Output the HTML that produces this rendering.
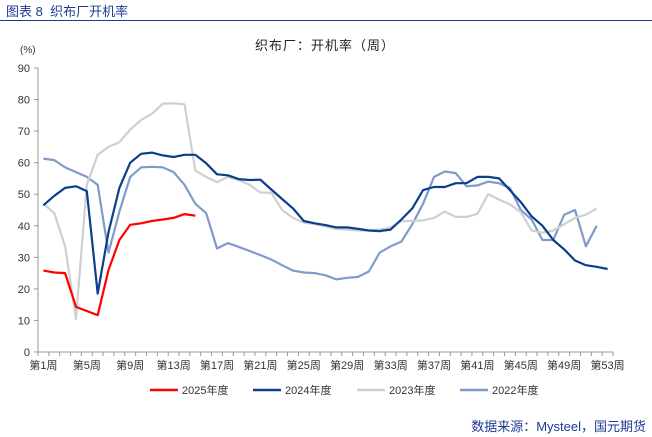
<!DOCTYPE html>
<html><head><meta charset="utf-8"><style>
body{margin:0;background:#fff;font-family:"Liberation Sans","Noto Sans CJK SC",sans-serif;}
#wrap{position:relative;width:652px;height:437px;overflow:hidden;background:#fff}
.hdr{position:absolute;left:6px;top:1px;font-size:13px;color:#1f3a93;}
</style></head><body>
<div id="wrap">
<div class="hdr">图表 8&nbsp; 织布厂开机率</div>
<div style="position:absolute;left:0;top:20px;width:652px;height:1px;background:#1f3a93"></div>
<svg id="svg" width="652" height="437" style="position:absolute;left:0;top:0"></svg>
<div style="position:absolute;right:6px;top:416px;font-size:13px;color:#1f3a93">数据来源：Mysteel，国元期货</div>
</div>
<script>
const categories=Array.from({length:53},(_,i)=>'第'+(i+1)+'周');
const yTicks=[0,10,20,30,40,50,60,70,80,90];
const s2025=[25.8,25.2,25,14.3,13,11.7,26,35.5,40.3,40.8,41.5,42,42.5,43.7,43.2];
const s2024=[46.5,49.5,52,52.5,51,18.5,38,52,60,62.8,63.2,62.3,61.8,62.5,62.5,59.8,56.3,56,54.8,54.5,54.6,51.5,48.5,45.5,41.5,40.8,40.2,39.5,39.5,39,38.5,38.3,38.8,42,45.5,51.3,52.3,52.3,53.5,53.5,55.5,55.5,55,51.3,47.5,43,40,35.5,32.5,29,27.5,27,26.3];
const s2023=[47,44,33.5,10.5,53,62.5,65,66.5,70.5,73.5,75.5,78.7,78.8,78.5,57.5,55.5,53.8,55.5,54.5,53,50.5,50.5,45,42.5,41,40.5,39.8,39,38.8,38.5,38.5,38.8,39.5,41.5,41.5,41.7,42.5,44.5,42.8,42.8,43.8,50,48.3,46.8,44.3,38.5,37.8,38.5,40.5,42.5,43.5,45.5];
const s2022=[61.3,60.8,58.5,57,55.5,53,31.5,44.5,55.5,58.5,58.7,58.5,57,53,47,44,32.8,34.5,33.3,32,30.7,29.3,27.5,25.8,25.2,25,24.3,23,23.5,23.8,25.5,31.5,33.5,35,40.5,47,55.5,57.2,56.7,52.5,52.8,54,53.5,52,45,42,35.5,35.5,43.5,45,33.5,40];
const seriesNames=['2025年度','2024年度','2023年度','2022年度'];
const svg=document.getElementById('svg');const NS='http://www.w3.org/2000/svg';
const X0=38,X1=613,Y0=352,Y1=68;const bw=(X1-X0)/categories.length;
const xs=i=>X0+(i+0.5)*bw;const ys=v=>Y0-(v/90)*(Y0-Y1);
function mk(t,a,txt){const e=document.createElementNS(NS,t);for(const k in a)e.setAttribute(k,a[k]);if(txt!=null)e.textContent=txt;svg.appendChild(e);return e;}
let e=mk('text',{x:325,y:50,'text-anchor':'middle','font-size':13,fill:'#222','letter-spacing':'1'},'织布厂：开机率（周）');

e=mk('text',{x:20,y:53,'font-size':10,fill:'#333'},'(%)');

yTicks.forEach(v=>{const t=mk('text',{x:30,y:ys(v)+4,'text-anchor':'end','font-size':11,fill:'#333'},String(v));

const l=mk('line',{x1:X0-4,x2:X0,y1:ys(v),y2:ys(v),stroke:'#999'});});
e=mk('line',{x1:X0,x2:X0,y1:Y1,y2:Y0,stroke:'#999'});
e=mk('line',{x1:X0,x2:X1,y1:Y0,y2:Y0,stroke:'#999'});
for(let i=0;i<=categories.length;i++){const l=mk('line',{x1:X0+i*bw,x2:X0+i*bw,y1:Y0,y2:Y0+4,stroke:'#999'});}
categories.forEach((c,i)=>{if(i%4==0){const t=mk('text',{x:xs(i),y:Y0+17,'text-anchor':'middle','font-size':11,fill:'#333'},c);}});
const colors=['#ff0000','#0b3e8c','#cfcfcf','#7f9cc8'];
[s2022,s2023,s2024,s2025].forEach((s,k)=>{const idx=3-k;const p=s.map((v,i)=>(i?'L':'M')+xs(i).toFixed(1)+' '+ys(v).toFixed(1)).join(' ');
const l=mk('path',{d:p,fill:'none',stroke:colors[idx],'stroke-width':2.2,'stroke-linejoin':'round'});
});
const lx=[150,253,357,460];
seriesNames.forEach((n,i)=>{const g=document.createElementNS(NS,'g');svg.appendChild(g);

const l=document.createElementNS(NS,'line');l.setAttribute('x1',lx[i]);l.setAttribute('x2',lx[i]+28);l.setAttribute('y1',390);l.setAttribute('y2',390);l.setAttribute('stroke',colors[i]);l.setAttribute('stroke-width',2.5);g.appendChild(l);
const t=document.createElementNS(NS,'text');t.setAttribute('x',lx[i]+32);t.setAttribute('y',394);t.setAttribute('font-size',11);t.setAttribute('fill','#333');t.textContent=n;g.appendChild(t);});
</script>
</body></html>
